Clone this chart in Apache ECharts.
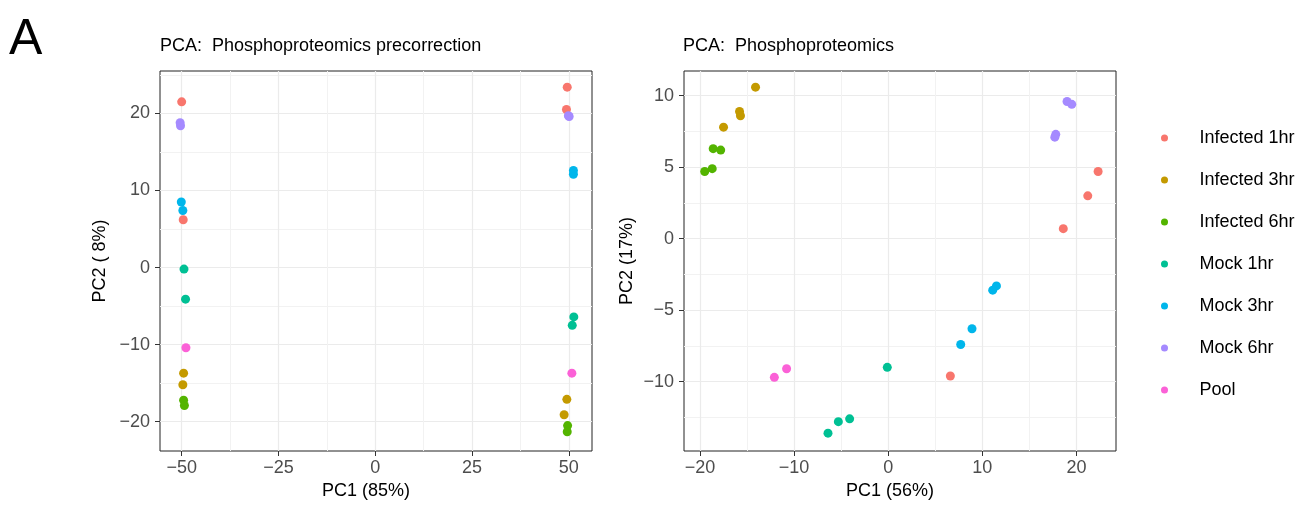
<!DOCTYPE html>
<html>
<head>
<meta charset="utf-8">
<script src="https://cdn.jsdelivr.net/npm/echarts@6/dist/echarts.min.js"></script>
<style>
  html, body { margin: 0; padding: 0; background: #fff; }
  #chart { width: 1309px; height: 513px; }
</style>
</head>
<body>
<div id="chart"></div>
<script>
const groups = ['Infected 1hr', 'Infected 3hr', 'Infected 6hr', 'Mock 1hr', 'Mock 3hr', 'Mock 6hr', 'Pool'];
const colors = ['#F8766D', '#C49A00', '#53B400', '#00C094', '#00B6EB', '#A58AFF', '#FB61D7'];

// precorrection scores [PC1, PC2]
const preInf1 = [[-50.0, 21.5], [-49.6, 6.2], [49.6, 23.4], [49.4, 20.5]];
const preInf3 = [[-49.5, -13.7], [-49.7, -15.2], [49.5, -17.1], [48.8, -19.1]];
const preInf6 = [[-49.5, -17.2], [-49.3, -17.9], [49.7, -20.5], [49.6, -21.3]];
const preMock1 = [[-49.4, -0.2], [-49.0, -4.1], [51.3, -6.4], [50.9, -7.5]];
const preMock3 = [[-50.1, 8.5], [-49.7, 7.4], [51.2, 12.6], [51.2, 12.1]];
const preMock6 = [[-50.4, 18.8], [-50.3, 18.4], [49.9, 19.7], [50.1, 19.6]];
const prePool = [[-48.9, -10.4], [50.8, -13.7]];

// corrected scores [PC1, PC2]
const postInf1 = [[22.3, 4.7], [21.2, 3.0], [18.6, 0.7], [6.6, -9.6]];
const postInf3 = [[-14.1, 10.6], [-15.8, 8.9], [-15.7, 8.6], [-17.5, 7.8]];
const postInf6 = [[-18.6, 6.3], [-17.8, 6.2], [-18.7, 4.9], [-19.5, 4.7]];
const postMock1 = [[-0.1, -9.0], [-4.1, -12.6], [-5.3, -12.8], [-6.4, -13.6]];
const postMock3 = [[11.5, -3.3], [11.1, -3.6], [8.9, -6.3], [7.7, -7.4]];
const postMock6 = [[19.0, 9.6], [19.5, 9.4], [17.8, 7.3], [17.7, 7.1]];
const postPool = [[-12.1, -9.7], [-10.8, -9.1]];

const preData = [preInf1, preInf3, preInf6, preMock1, preMock3, preMock6, prePool];
const postData = [postInf1, postInf3, postInf6, postMock1, postMock3, postMock6, postPool];

// tick values
const preXTicks = [-50, -25, 0, 25, 50];
const preXMinor = [-37.5, -12.5, 12.5, 37.5];
const preYTicks = [-20, -10, 0, 10, 20];
const preYMinor = [-15, -5, 5, 15, 25];
const postXTicks = [-20, -10, 0, 10, 20];
const postXMinor = [-15, -5, 5, 15];
const postYTicks = [-10, -5, 0, 5, 10];
const postYMinor = [-12.5, -7.5, -2.5, 2.5, 7.5];

const font = "'Liberation Sans', Arial, sans-serif";
const minus = v => String(v).replace('-', '\u2212');

function mainAxis(gridIndex, min, max, ticks, name, isY, gap) {
  return {
    type: 'value', gridIndex, min, max,
    name, nameLocation: 'middle', nameGap: gap,
    nameTextStyle: { fontFamily: font, fontSize: 18, color: '#000', padding: isY ? 0 : [0, 20, 0, 0] },
    axisLine: { show: false, onZero: false },
    axisTick: { show: true, length: 5, customValues: ticks, lineStyle: { color: '#333' } },
    axisLabel: { customValues: ticks, formatter: minus, color: '#4D4D4D', fontFamily: font, fontSize: 18, margin: isY ? 10 : 8 },
    splitLine: { show: true, lineStyle: { color: '#EBEBEB', width: 1.2 } }
  };
}
function minorAxis(gridIndex, min, max, ticks, isY) {
  return {
    type: 'value', gridIndex, min, max, position: isY ? 'right' : 'top',
    axisLine: { show: false, onZero: false },
    axisTick: { show: false, customValues: ticks },
    axisLabel: { show: false, customValues: ticks },
    splitLine: { show: true, lineStyle: { color: '#F2F2F2', width: 1 } }
  };
}

const series = [];
[preData, postData].forEach((set, g) => {
  set.forEach((pts, i) => {
    series.push({
      type: 'scatter', name: groups[i], xAxisIndex: g * 2, yAxisIndex: g * 2,
      data: pts, symbolSize: 9, itemStyle: { color: colors[i], opacity: 1 }
    });
  });
});

const chart = echarts.init(document.getElementById('chart'));
chart.setOption({
  animation: false,
  title: [
    { text: 'A', left: 4, top: 10, textStyle: { fontFamily: font, fontSize: 50, fontWeight: 'normal', color: '#000' } },
    { text: 'PCA:  Phosphoproteomics precorrection', left: 155, top: 32, textStyle: { fontFamily: font, fontSize: 18, fontWeight: 'normal', color: '#000' } },
    { text: 'PCA:  Phosphoproteomics', left: 678, top: 32, textStyle: { fontFamily: font, fontSize: 18, fontWeight: 'normal', color: '#000' } }
  ],
  grid: [
    { left: 160, top: 71, width: 432, height: 380, show: true, borderColor: '#222', borderWidth: 1, backgroundColor: 'transparent' },
    { left: 684, top: 71, width: 432, height: 380, show: true, borderColor: '#222', borderWidth: 1, backgroundColor: 'transparent' }
  ],
  legend: {
    data: groups, orient: 'vertical', left: 1161, top: 128, padding: 0,
    itemWidth: 60, itemHeight: 7, itemGap: 22, icon: 'circle',
    textStyle: { fontFamily: font, fontSize: 18, color: '#000', lineHeight: 20 }
  },
  xAxis: [
    mainAxis(0, -55.6, 56.0, preXTicks, 'PC1 (85%)', false, 29),
    minorAxis(0, -55.6, 56.0, preXMinor, false),
    mainAxis(1, -21.7, 24.2, postXTicks, 'PC1 (56%)', false, 29),
    minorAxis(1, -21.7, 24.2, postXMinor, false)
  ],
  yAxis: [
    mainAxis(0, -23.8, 25.5, preYTicks, 'PC2 ( 8%)', true, 51),
    minorAxis(0, -23.8, 25.5, preYMinor, true),
    mainAxis(1, -14.85, 11.73, postYTicks, 'PC2 (17%)', true, 48),
    minorAxis(1, -14.85, 11.73, postYMinor, true)
  ],
  series
});
</script>
</body>
</html>
